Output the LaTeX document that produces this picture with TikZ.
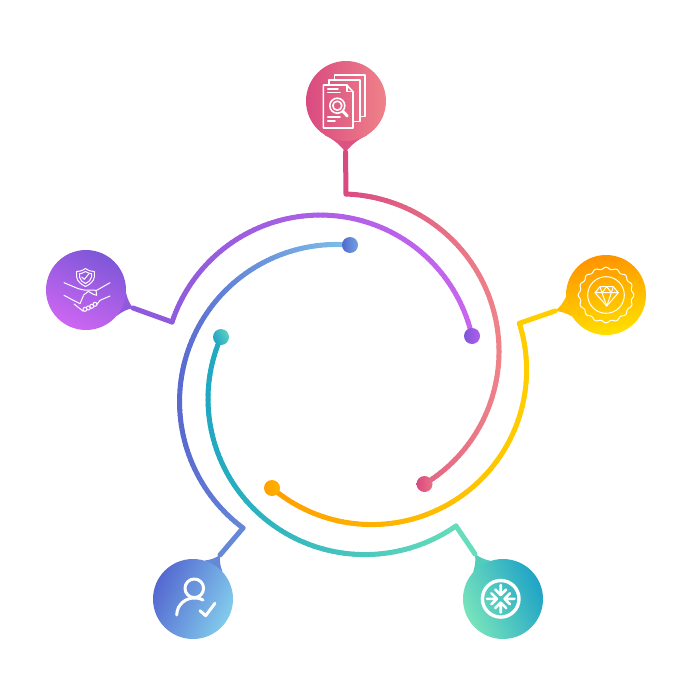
\documentclass[tikz,border=0pt]{standalone}
\usetikzlibrary{backgrounds}
\definecolor{rosedark}{HTML}{D94A80}
\definecolor{roselight}{HTML}{EF8289}
\definecolor{violetdark}{HTML}{7E57D8}
\definecolor{violetlight}{HTML}{CD66F2}
\definecolor{violetring}{HTML}{8F5BDC}
\definecolor{violetend}{HTML}{C865EE}
\definecolor{amberdark}{HTML}{FF9300}
\definecolor{amberlight}{HTML}{FFE000}
\definecolor{amberring}{HTML}{FFA000}
\definecolor{amberend}{HTML}{FFCE00}
\definecolor{indigodark}{HTML}{5468D0}
\definecolor{indigolight}{HTML}{82CCEC}
\definecolor{indigoring}{HTML}{5A6AD0}
\definecolor{indigoend}{HTML}{7CBFE8}
\definecolor{mintlight}{HTML}{78E4BC}
\definecolor{mintdark}{HTML}{1FA3C6}
\definecolor{mintring}{HTML}{1FA8C0}
\definecolor{mintend}{HTML}{66DDBB}
\tikzset{
  pinhead/.style  = {circle, minimum size=80pt, inner sep=0pt},
  dotnode/.style  = {circle, minimum size=16pt, inner sep=0pt},
  ringline/.style = {line width=5pt, line cap=round},
  leadline/.style = {line width=5pt, line cap=round, line join=round},
  iconline/.style = {draw=white, line width=1.6pt, line cap=round, line join=round},
  iconthin/.style = {draw=white, line width=1pt, line cap=round, line join=round},
  iconbold/.style = {draw=white, line width=3pt, line cap=round, line join=round}
}
\begin{document}
\begin{tikzpicture}[x=1pt,y=-1pt]
  \useasboundingbox (0,0) rectangle (700,700);
  % pins
  \node[pinhead, left color=rosedark, right color=roselight] (docpin) at (346,101) {};
  \node[pinhead, top color=violetdark, bottom color=violetlight, shading angle=-25] (dealpin) at (86,290) {};
  \node[pinhead, top color=amberdark, bottom color=amberlight, shading angle=10] (gempin) at (606,295) {};
  \node[pinhead, left color=indigodark, right color=indigolight, shading angle=65] (userpin) at (193,599) {};
  \node[pinhead, left color=mintlight, right color=mintdark, shading angle=115] (snowpin) at (503,599) {};
  \coordinate (doctip)  at (345.5,152);
  \coordinate (dealtip) at (133,308);
  \coordinate (gemtip)  at (555,311);
  \coordinate (usertip) at (220,555);
  \coordinate (snowtip) at (475,554);
  \coordinate (docturn)  at (346,194);
  \coordinate (dealturn) at (172,322);
  \coordinate (gemturn)  at (519.3,323.3);
  \coordinate (userturn) at (243,528);
  \coordinate (snowturn) at (456,526);
  % tails sit behind the pins
  \begin{scope}[on background layer]
    \fill[rosedark!85!roselight] (docpin.238) to[bend left=12] (doctip) to[bend left=12] (docpin.302) -- cycle;
    \fill[violetring] (dealpin.-4) to[bend right=12] (dealtip) to[bend right=12] (dealpin.-40) -- cycle;
    \fill[amberend!60!amberring] (gempin.183) to[bend left=12] (gemtip) to[bend left=12] (gempin.212) -- cycle;
    \fill[indigoend!35!indigoring] (userpin.73) to[bend right=12] (usertip) to[bend right=12] (userpin.43) -- cycle;
    \fill[mintend!70!mintring] (snowpin.108) to[bend left=12] (snowtip) to[bend left=12] (snowpin.138) -- cycle;
  \end{scope}
  % leads
  \draw[leadline, rosedark] (doctip) -- (docturn);
  \draw[leadline, violetring] (dealtip) -- (dealturn);
  \draw[leadline, amberend] (gemtip) -- (gemturn);
  \draw[leadline, indigoend!35!indigoring] (usertip) -- (userturn);
  \draw[leadline, mintend] (snowtip) -- (snowturn);
  % rings, short pieces so the colour can run along them
  \foreach \cx/\cy/\aA/\aB/\rA/\rB/\bulge/\colA/\colB/\xA/\xB in {
    343/354/-88.9/57.9/160/153.4/0/rosedark/roselight/346/500,
    321/371/-161.8/-13/156.8/155/0/violetring/violetend/172/472,
    370/367/-16.3/129/155.6/155.7/2.4/amberring/amberend/272/527,
    337/401/126.5/275.2/158/156.5/0/indigoring/indigoend/180/350,
    362/396/54.1/202.7/160.4/152.8/0/mintring/mintend/206/456}{
    \foreach \i in {1,...,80}{
      \pgfmathsetmacro{\tS}{(\i-1)/80}
      \pgfmathsetmacro{\tE}{\i/80}
      \pgfmathsetmacro{\angS}{\aA+(\aB-\aA)*\tS}
      \pgfmathsetmacro{\angE}{\aA+(\aB-\aA)*\tE}
      \pgfmathsetmacro{\radS}{\rA+(\rB-\rA)*\tS+\bulge*4*\tS*(1-\tS)}
      \pgfmathsetmacro{\radE}{\rA+(\rB-\rA)*\tE+\bulge*4*\tE*(1-\tE)}
      \pgfmathsetmacro{\xS}{\cx+\radS*cos(\angS)}
      \pgfmathsetmacro{\yS}{\cy+\radS*sin(\angS)}
      \pgfmathsetmacro{\xE}{\cx+\radE*cos(\angE)}
      \pgfmathsetmacro{\yE}{\cy+\radE*sin(\angE)}
      \pgfmathsetmacro{\mixp}{max(0,min(100,(\xE-\xA)/(\xB-\xA)*100))}
      \draw[ringline, draw=\colB!\mixp!\colA] (\xS,\yS) -- (\xE,\yE);
    }
  }
  % ring ends
  \node[dotnode, left color=rosedark, right color=roselight!70!rosedark] (docdot) at (424.5,484) {};
  \node[dotnode, left color=violetdark, right color=violetlight!60!violetdark] (dealdot) at (472,336) {};
  \node[dotnode, left color=amberring, right color=amberring!70!amberlight] (gemdot) at (272,488) {};
  \node[dotnode, left color=indigodark, right color=indigolight!60!indigodark] (userdot) at (350,245) {};
  \node[dotnode, left color=mintdark, right color=mintlight!70!mintdark, shading angle=115] (snowdot) at (221,337) {};
  % document icon
  \draw[iconline] (346.7,85) -- (323.3,85) -- (323.3,128) -- (353,128) -- (353,91.7) -- cycle;
  \draw[iconline] (346.7,85) -- (346.7,91.7) -- (353,91.7);
  \draw[iconline] (329,85) -- (329,80) -- (360,80) -- (360,121.7) -- (353,121.7);
  \draw[iconline] (334.3,80) -- (334.3,75) -- (365,75) -- (365,116.7) -- (360,116.7);
  \draw[iconline] (327.7,89) -- (338,89) (327.7,92.5) -- (340,92.5) (327.7,117.3) -- (340,117.3) (327.7,121) -- (335,121);
  \draw[iconline] (337.3,105.7) circle (7.5pt) (337.3,105.7) circle (4.5pt);
  \draw[iconbold] (343,111.5) -- (347.3,116);
  % handshake icon
  \draw[iconthin] (85.5,268.5) .. controls (82,271) and (79,271.5) .. (76.7,271.5) -- (76.7,277) .. controls (77,281) and (81,284.5) .. (85.5,286.5) .. controls (90,284.5) and (94,281) .. (94.3,277) -- (94.3,271.5) .. controls (92,271.5) and (89,271) .. (85.5,268.5) -- cycle;
  \draw[iconthin] (85.5,271.5) .. controls (83,273) and (81,273.7) .. (79.5,273.7) -- (79.5,277) .. controls (80,280) and (82.5,282.3) .. (85.5,283.5) .. controls (88.5,282.3) and (91,280) .. (91.5,277) -- (91.5,273.7) .. controls (90,273.7) and (88,273) .. (85.5,271.5) -- cycle;
  \draw[iconthin] (81.7,277) -- (84.3,279.3) -- (89,273.7);
  \draw[iconthin] (64,282.7) -- (78.3,288.7) -- (84,290) -- (96.7,290.3) -- (110,282.7);
  \draw[iconthin] (83.3,295.3) -- (88.3,291.3) -- (93.3,294.3) -- (96.7,295.3) -- (96,290.5);
  \draw[iconthin] (64,295.3) -- (73.3,300.3) -- (80,303.7) -- (83.3,296) (74,304) -- (83.3,311.3);
  \draw[iconthin] (110,296) -- (100,300.3) -- (96.7,304.7);
  \foreach \fx/\fy in {85/309.3, 88.3/308, 91.7/306.3, 95/304.3}{
    \draw[iconthin] (\fx,\fy) circle (2pt);
  }
  % diamond icon
  \draw[iconthin] plot[domain=0:360, samples=161, smooth] ({606+(26.8+1*cos(16*\x))*cos(\x)},{295+(26.8+1*cos(16*\x))*sin(\x)});
  \draw[iconthin] (606,295) circle (18.3pt);
  \draw[iconthin] (600,286.7) -- (613.3,286.7) -- (618.3,292.7) -- (606.7,306) -- (595,292.7) -- cycle;
  \draw[iconthin] (595,292.7) -- (618.3,292.7) (600,286.7) -- (602,292.7) -- (606.7,306) -- (611.4,292.7) -- (613.3,286.7) (602,292.7) -- (606.7,286.7) -- (611.4,292.7);
  % user icon
  \draw[iconbold] (194.3,588.3) circle (9.3pt);
  \draw[iconbold] (176.7,615) .. controls (177,604) and (186,598) .. (194,598) .. controls (198,598) and (201,598.5) .. (203,600);
  \draw[iconbold] (200,610.7) -- (205.7,615.7) -- (215,603.3);
  % snow icon
  \draw[iconbold, line width=3.4pt] (500.7,598.8) circle (18.3pt);
  \foreach \ang in {0,90,180,270}{
    \draw[iconbold, line width=2.6pt, rotate around={\ang:(500.7,598.8)}] (500.7,585) -- (500.7,595) (495.2,589.5) -- (500.7,595) -- (506.2,589.5);
  }
\end{tikzpicture}
\end{document}
